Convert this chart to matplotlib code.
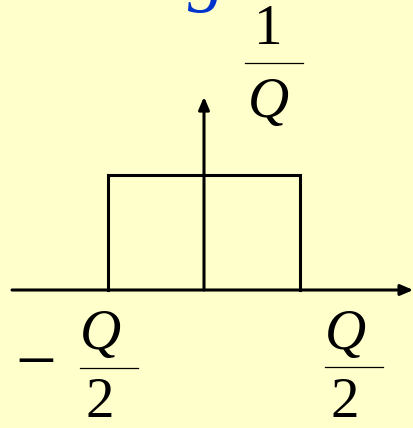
import matplotlib.pyplot as plt
from matplotlib.lines import Line2D

# rectangle pulse: width Q, height 1/Q (units: Q/2 = 1, 1/Q = 1)
pulse_x = [-1.0, -1.0, 1.0, 1.0]
pulse_y = [0.0, 1.0, 1.0, 0.0]
axis_x = [-2.0, 2.18]
axis_y_top = 1.68

W, H = 413, 428
bg = '#FFFFCC'

fig = plt.figure(figsize=(W / 100, H / 100), dpi=100, facecolor=bg)
ax = fig.add_axes([0, 0, 1, 1])
ax.set_facecolor(bg)
ax.set_xlim(-204 / 96, (W - 204) / 96)
ax.set_ylim(-(H - 290) / 115, 290 / 115)
ax.axis('off')

lw = 2.2
ax.plot(pulse_x, pulse_y, color='black', lw=lw, solid_joinstyle='miter')
ax.annotate('', xy=(axis_x[1], 0), xytext=(axis_x[0], 0),
            arrowprops=dict(arrowstyle='-|>,head_length=0.75,head_width=0.32',
                            color='black', lw=lw, shrinkA=0, shrinkB=0))
ax.annotate('', xy=(0, axis_y_top), xytext=(0, 0),
            arrowprops=dict(arrowstyle='-|>,head_length=0.75,head_width=0.32',
                            color='black', lw=lw, shrinkA=0, shrinkB=0))


def px(x, y):
    return x / W, 1 - y / H


serif = 'Liberation Serif'
fs = 41


def frac(cx, top, bottom, line_y, x0, x1, num, den):
    fig.text(*px(cx, top), num, family=serif, size=fs,
             style='italic' if num == 'Q' else 'normal',
             ha='center', va='center')
    fig.text(*px(cx, bottom), den, family=serif, size=fs,
             style='italic' if den == 'Q' else 'normal',
             ha='center', va='center')
    fig.add_artist(Line2D([x0 / W, x1 / W], [1 - line_y / H, 1 - line_y / H],
                          color='black', lw=0.9, transform=fig.transFigure))


# 1/Q at top of vertical axis
frac(268, 30, 103, 63, 245, 303, '1', 'Q')
# -Q/2 and Q/2 under the horizontal axis
frac(100, 335, 403, 368, 80, 138, 'Q', '2')
frac(345, 335, 403, 367, 325, 383, 'Q', '2')
fig.text(*px(36, 366), '\u2212', family=serif, size=52,
         ha='center', va='center')

# blue letter cut off by the top edge
fig.text(*px(207, -3), 'g', family=serif, size=54, style='italic',
         color='#0033CC', ha='center', va='baseline')

fig.savefig('out.png', dpi=100, facecolor=bg)
